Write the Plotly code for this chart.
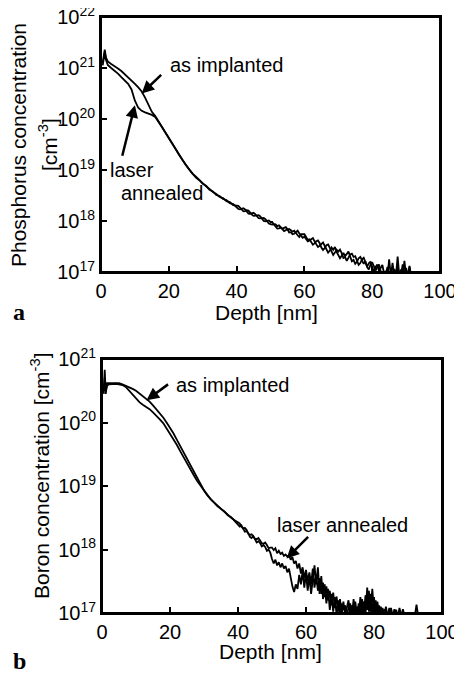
import plotly.graph_objects as go

# ---------------- data (log10 of concentration, cm^-3) ----------------
depth_head = [0.5, 0.8, 1.1, 1.5] + list(range(2, 40))
depth_tail = [40 + 0.5 * i for i in range(111)]  # 40 .. 95 nm
depth = depth_head + depth_tail

# Phosphorus, as implanted
p_impl_head = [21.10, 21.22, 21.36, 21.20, 21.13, 21.08, 21.04, 20.99, 20.94, 20.88, 20.82, 20.75,
               20.69, 20.62, 20.54, 20.42, 20.27, 20.14, 20.06, 19.95, 19.84, 19.73, 19.63, 19.52,
               19.41, 19.30, 19.20, 19.10, 19.01, 18.93, 18.87, 18.80, 18.75, 18.68, 18.63, 18.57,
               18.53, 18.47, 18.45, 18.39, 18.37, 18.31]
p_impl_tail = [18.30, 18.295, 18.26, 18.215, 18.19, 18.195, 18.21, 18.205, 18.16, 18.125,
               18.10, 18.105, 18.11, 18.115, 18.09, 18.04, 18.00, 17.995, 18.01, 18.01,
               17.98, 17.98, 17.93, 17.895, 17.85, 17.855, 17.87, 17.85, 17.87, 17.88,
               17.84, 17.775, 17.78, 17.74, 17.75, 17.79, 17.81, 17.755, 17.72, 17.67,
               17.69, 17.645, 17.60, 17.62, 17.64, 17.665, 17.60, 17.545, 17.49, 17.515,
               17.54, 17.58, 17.51, 17.435, 17.38, 17.42, 17.48, 17.435, 17.49, 17.395,
               17.32, 17.27, 17.32, 17.375, 17.31, 17.37, 17.40, 17.305, 17.21, 17.235,
               17.16, 17.20, 17.27, 17.295, 17.22, 17.16, 17.21, 17.095, 17.05, 17.145,
               17.19, 17.105, 17.03, 17.095, 17.15, 17.015, 16.95, 16.95,
               17.02, 16.92, 17.25, 16.92, 16.95, 17.06, 16.92, 17.30, 16.92, 16.95,
               17.15, 16.92, 17.08, 16.92, 17.12, 16.92, 16.90, 16.90, 16.90, 16.90,
               16.90, 16.90, 16.90]

# Phosphorus, laser annealed
p_laser_head = [21.05, 21.18, 21.30, 21.15, 21.06, 21.00, 20.95, 20.89, 20.82, 20.76, 20.69, 20.58,
                20.36, 20.22, 20.16, 20.13, 20.11, 20.08, 20.04, 19.95, 19.84, 19.73, 19.63, 19.52,
                19.41, 19.30, 19.20, 19.10, 19.01, 18.93, 18.85, 18.80, 18.73, 18.69, 18.61, 18.58,
                18.51, 18.49, 18.43, 18.41, 18.35, 18.33]
p_laser_tail = [18.27, 18.235, 18.23, 18.245, 18.25, 18.225, 18.18, 18.145, 18.14, 18.155,
                18.16, 18.135, 18.10, 18.055, 18.05, 18.06, 18.06, 18.035, 17.99, 17.95,
                17.94, 17.93, 17.94, 17.935, 17.90, 17.915, 17.88, 17.83, 17.80, 17.82,
                17.83, 17.845, 17.82, 17.79, 17.81, 17.75, 17.72, 17.685, 17.74, 17.74,
                17.74, 17.685, 17.63, 17.64, 17.58, 17.535, 17.56, 17.605, 17.62, 17.565,
                17.48, 17.43, 17.47, 17.525, 17.54, 17.47, 17.39, 17.335, 17.38, 17.435,
                17.40, 17.44, 17.37, 17.275, 17.29, 17.22, 17.28, 17.345, 17.36, 17.295,
                17.31, 17.21, 17.14, 17.175, 17.25, 17.28, 17.19, 17.105, 17.17, 17.205,
                17.09, 17.015, 17.10, 17.145, 17.02, 17.085, 17.14, 16.97,
                16.95, 17.10, 16.92, 16.92, 17.18, 16.92, 16.95, 17.12, 16.92, 17.05,
                16.92, 17.22, 16.92, 16.90, 17.10, 16.90, 16.90, 16.90, 16.90, 16.90,
                16.90, 16.90, 16.90]

# Boron, as implanted
b_impl_head = [20.50, 20.83, 20.45, 20.62, 20.62, 20.62, 20.62, 20.62, 20.60, 20.58, 20.56, 20.53,
               20.50, 20.46, 20.42, 20.38, 20.33, 20.27, 20.21, 20.15, 20.08, 20.00, 19.92, 19.83,
               19.73, 19.63, 19.52, 19.42, 19.31, 19.21, 19.11, 19.02, 18.93, 18.85, 18.79, 18.73,
               18.68, 18.64, 18.59, 18.55, 18.50, 18.46]
b_impl_tail = [18.43, 18.41, 18.36, 18.33, 18.34, 18.31, 18.25, 18.23, 18.24, 18.21,
               18.17, 18.16, 18.18, 18.14, 18.10, 18.09, 18.11, 18.07, 18.02, 18.03,
               18.03, 17.99, 18.02, 17.94, 17.98, 17.93, 17.95, 17.90, 17.92, 17.89,
               17.91, 17.84, 17.88, 17.78, 17.82, 17.70, 17.78, 17.62, 17.72, 17.55,
               17.68, 17.50, 17.64, 17.45, 17.70, 17.40, 17.60, 17.35, 17.55, 17.30,
               17.48, 17.25, 17.42, 17.20, 17.35, 17.12, 17.32, 17.08, 17.26, 17.02,
               17.22, 16.98, 17.18, 16.96, 17.10, 17.20, 16.97, 17.12, 16.98, 17.18,
               16.96, 17.15, 16.97, 17.22, 16.98, 17.28, 17.05, 17.35, 17.00, 17.38,
               17.02, 17.20, 16.97, 17.12, 16.96, 17.08, 16.95, 17.10, 16.95, 16.95,
               17.08, 16.95, 16.95, 17.05, 16.95, 16.95, 16.95, 17.06, 16.95, 16.95,
               16.95, 16.95, 16.95, 16.95, 16.95, 16.95, 16.95, 16.95, 16.95, 16.95, 16.95]

# Boron, laser annealed
b_laser_head = [20.45, 20.70, 20.50, 20.58, 20.60, 20.61, 20.61, 20.60, 20.59, 20.56, 20.50, 20.44,
                20.38, 20.32, 20.28, 20.25, 20.21, 20.16, 20.11, 20.05, 19.99, 19.91, 19.83, 19.74,
                19.65, 19.55, 19.45, 19.36, 19.26, 19.17, 19.08, 19.00, 18.92, 18.86, 18.79, 18.74,
                18.68, 18.64, 18.60, 18.54, 18.51, 18.45]
b_laser_tail = [18.39, 18.36, 18.38, 18.32, 18.28, 18.29, 18.26, 18.20, 18.18, 18.21,
                18.15, 18.11, 18.13, 18.10, 18.05, 18.07, 18.04, 17.98, 18.00, 17.95,
                17.85, 17.78, 17.84, 17.75, 17.80, 17.72, 17.78, 17.70, 17.74, 17.64,
                17.70, 17.55, 17.42, 17.33, 17.45, 17.38, 17.60, 17.45, 17.66, 17.40,
                17.62, 17.35, 17.58, 17.30, 17.52, 17.75, 17.45, 17.72, 17.30, 17.58,
                17.22, 17.45, 17.15, 17.38, 17.05, 17.30, 17.02, 17.25, 16.96, 17.20,
                16.95, 17.15, 17.05, 17.12, 16.95, 17.08, 17.15, 16.95, 17.22, 16.96,
                17.10, 16.96, 17.25, 16.98, 17.18, 16.97, 17.40, 17.02, 17.30, 16.98,
                17.25, 16.96, 17.18, 16.96, 17.10, 16.95, 17.06, 16.95, 16.95, 17.08,
                16.95, 16.95, 17.06, 16.95, 16.95, 17.08, 16.95, 16.95, 16.95, 16.95,
                16.95, 16.95, 16.95, 16.95, 16.95, 17.13, 16.95, 16.95, 16.95, 16.95, 16.95]

p_ticks = [17, 18, 19, 20, 21, 22]
b_ticks = [17, 18, 19, 20, 21]
x_ticks = [0, 20, 40, 60, 80, 100]

# ---------------- figure ----------------
FONT = "Arial, Liberation Sans, sans-serif"
fig = go.Figure()

def add_series(vals, xa, ya):
    fig.add_trace(go.Scatter(x=depth, y=[10.0 ** v for v in vals], mode="lines",
                             line=dict(color="black", width=1.8),
                             xaxis=xa, yaxis=ya, showlegend=False, hoverinfo="skip"))

add_series(p_impl_head + p_impl_tail, "x", "y")
add_series(p_laser_head + p_laser_tail, "x", "y")
add_series(b_impl_head + b_impl_tail, "x2", "y2")
add_series(b_laser_head + b_laser_tail, "x2", "y2")

# page body has an 8 px margin: the figure starts 8 px in from the window corner
OFF = 8
W, H = 462, 676

def fx(px):
    return (px - OFF) / W

def fy(py):
    return 1 - (py - OFF) / H

xcommon = dict(range=[0, 100], tickvals=x_ticks, ticktext=[str(t) for t in x_ticks],
               ticks="inside", ticklen=6, tickwidth=2, tickcolor="black",
               showline=True, linecolor="black", linewidth=2, mirror=True,
               showgrid=False, zeroline=False, ticklabeloverflow="allow",
               tickfont=dict(family=FONT, size=20, color="black"), automargin=False)
ycommon = dict(type="log", ticks="inside", ticklen=6, tickwidth=2, tickcolor="black",
               showline=True, linecolor="black", linewidth=2, mirror=True,
               showgrid=False, zeroline=False, ticklabeloverflow="allow",
               tickfont=dict(family=FONT, size=20, color="black"), automargin=False)

fig.update_layout(
    width=W, height=H, margin=dict(l=0, r=0, t=0, b=0),
    paper_bgcolor="white", plot_bgcolor="white",
    xaxis=dict(domain=[fx(101), fx(440)], anchor="y", **xcommon),
    yaxis=dict(domain=[fy(272), fy(17)], anchor="x", range=[17, 22],
               tickvals=[10.0 ** t for t in p_ticks],
               ticktext=[f"10<sup>{t}</sup>" for t in p_ticks], **ycommon),
    xaxis2=dict(domain=[fx(102), fx(442)], anchor="y2", **xcommon),
    yaxis2=dict(domain=[fy(613), fy(359)], anchor="x2", range=[17, 21],
                tickvals=[10.0 ** t for t in b_ticks],
                ticktext=[f"10<sup>{t}</sup>" for t in b_ticks], **ycommon),
)

# frame around each panel
for xr, yr in (("x", "y"), ("x2", "y2")):
    fig.add_shape(type="rect", xref=f"{xr} domain", yref=f"{yr} domain",
                  x0=0, x1=1, y0=0, y1=1, line=dict(color="black", width=2),
                  fillcolor="rgba(0,0,0,0)", layer="above")

txt = dict(family=FONT, size=20, color="black")
title_font = dict(family=FONT, size=21, color="black")
letter_font = dict(family="Times New Roman, Liberation Serif, serif", size=24, color="black")
arrow = dict(showarrow=True, arrowhead=2, arrowsize=1, arrowwidth=2.5, arrowcolor="black",
             text="", standoff=0)
center = dict(xanchor="center", yanchor="middle", showarrow=False)

annotations = [
    # top panel
    dict(x=12.0, y=20.50, xref="x", yref="y", ax=21, ay=-20, **arrow),
    dict(x=10.0, y=20.27, xref="x", yref="y", ax=-13, ay=52, **arrow),
    dict(x=36.9, y=21.06, xref="x", yref="y", text="as implanted", font=txt, **center),
    dict(x=9.1, y=19.0, xref="x", yref="y", text="laser", font=txt, **center),
    dict(x=18.0, y=18.55, xref="x", yref="y", text="annealed", font=txt, **center),
    # bottom panel
    dict(x=13.1, y=20.35, xref="x2", yref="y2", ax=23, ay=-17, **arrow),
    dict(x=54.3, y=17.86, xref="x2", yref="y2", ax=23, ay=-23, **arrow),
    dict(x=38.3, y=20.59, xref="x2", yref="y2", text="as implanted", font=txt, **center),
    dict(x=70.7, y=18.39, xref="x2", yref="y2", text="laser annealed", font=txt, **center),
    # axis titles
    dict(x=fx(266), y=fy(313), xref="paper", yref="paper", text="Depth [nm]",
         font=title_font, **center),
    dict(x=fx(270), y=fy(651), xref="paper", yref="paper", text="Depth [nm]",
         font=title_font, **center),
    dict(x=fx(18), y=fy(145), xref="paper", yref="paper", text="Phosphorus concentration",
         textangle=-90, font=title_font, **center),
    dict(x=fx(48), y=fy(145), xref="paper", yref="paper", text="[cm<sup>-3</sup>]",
         textangle=-90, font=title_font, **center),
    dict(x=fx(40), y=fy(476), xref="paper", yref="paper",
         text="Boron concentration [cm<sup>-3</sup>]",
         textangle=-90, font=title_font, **center),
    # panel letters
    dict(x=fx(19), y=fy(312), xref="paper", yref="paper", text="<b>a</b>",
         font=letter_font, **center),
    dict(x=fx(19), y=fy(661), xref="paper", yref="paper", text="<b>b</b>",
         font=letter_font, **center),
]
fig.update_layout(annotations=annotations)

fig.write_html("out.html")
